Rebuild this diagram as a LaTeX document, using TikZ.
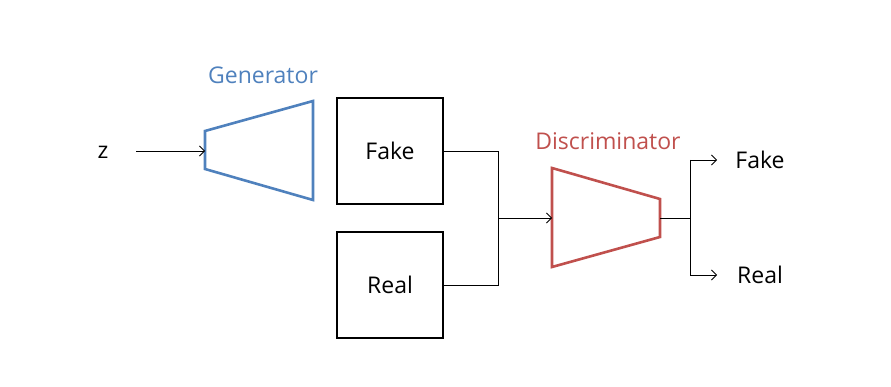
\documentclass[tikz,border=0pt]{standalone}
\usepackage{fontspec}
\setmainfont{Open Sans}
\usetikzlibrary{arrows.meta}
\definecolor{genblue}{HTML}{4F81BD}
\definecolor{disred}{HTML}{C0504D}
\tikzset{
  lbl/.style={font=\fontsize{23}{27}\selectfont, inner sep=0pt},
  sample/.style={draw=black, line width=2.4pt, minimum width=106pt, minimum height=106pt, inner sep=0pt, font=\fontsize{23}{27}\selectfont},
  conn/.style={draw=black, line width=0.8pt},
  arr/.style={conn, -{Straight Barb[length=5pt,width=10pt]}},
  gen/.style={draw=genblue, line width=2.6pt, line join=miter},
  dis/.style={draw=disred, line width=2.6pt, line join=miter},
}
\begin{document}
\begin{tikzpicture}[x=1pt,y=-1pt]
\useasboundingbox (0,0) rectangle (891,387);
% generator
\draw[gen] (205,131) -- (313,101) -- (313,200) -- (205,169) -- cycle;
\coordinate (genin) at (205,151);
\node[lbl, text=genblue] (gentxt) at (263,75) {Generator};
\node[lbl] (z) at (103,152) {z};
\coordinate (zr) at (136,151);
\draw[arr] (zr) -- (genin);
% samples
\node[sample] (fake) at (390,151) {Fake};
\node[sample] (real) at (390,285) {Real};
% junction
\coordinate (jf) at (498,151);
\coordinate (jr) at (498,285);
\coordinate (jm) at (498,218);
\draw[conn] (fake.east) -- (jf) -- (jr) -- (real.east);
% discriminator
\draw[dis] (552,168) -- (660,199) -- (660,237) -- (552,267) -- cycle;
\coordinate (disin) at (552,218);
\coordinate (disout) at (660,218);
\node[lbl, text=disred] (distxt) at (608,141) {Discriminator};
\draw[arr] (jm) -- (disin);
% outputs
\coordinate (om) at (690,218);
\coordinate (ot) at (690,160);
\coordinate (ob) at (690,275);
\node[lbl] (outfake) at (760,160) {Fake};
\node[lbl] (outreal) at (760,275) {Real};
\draw[conn] (disout) -- (om);
\draw[conn] (ot) -- (ob);
\draw[arr] (ot) -- (outfake.west -| 717,0);
\draw[arr] (ob) -- (outreal.west -| 717,0);
\end{tikzpicture}
\end{document}
